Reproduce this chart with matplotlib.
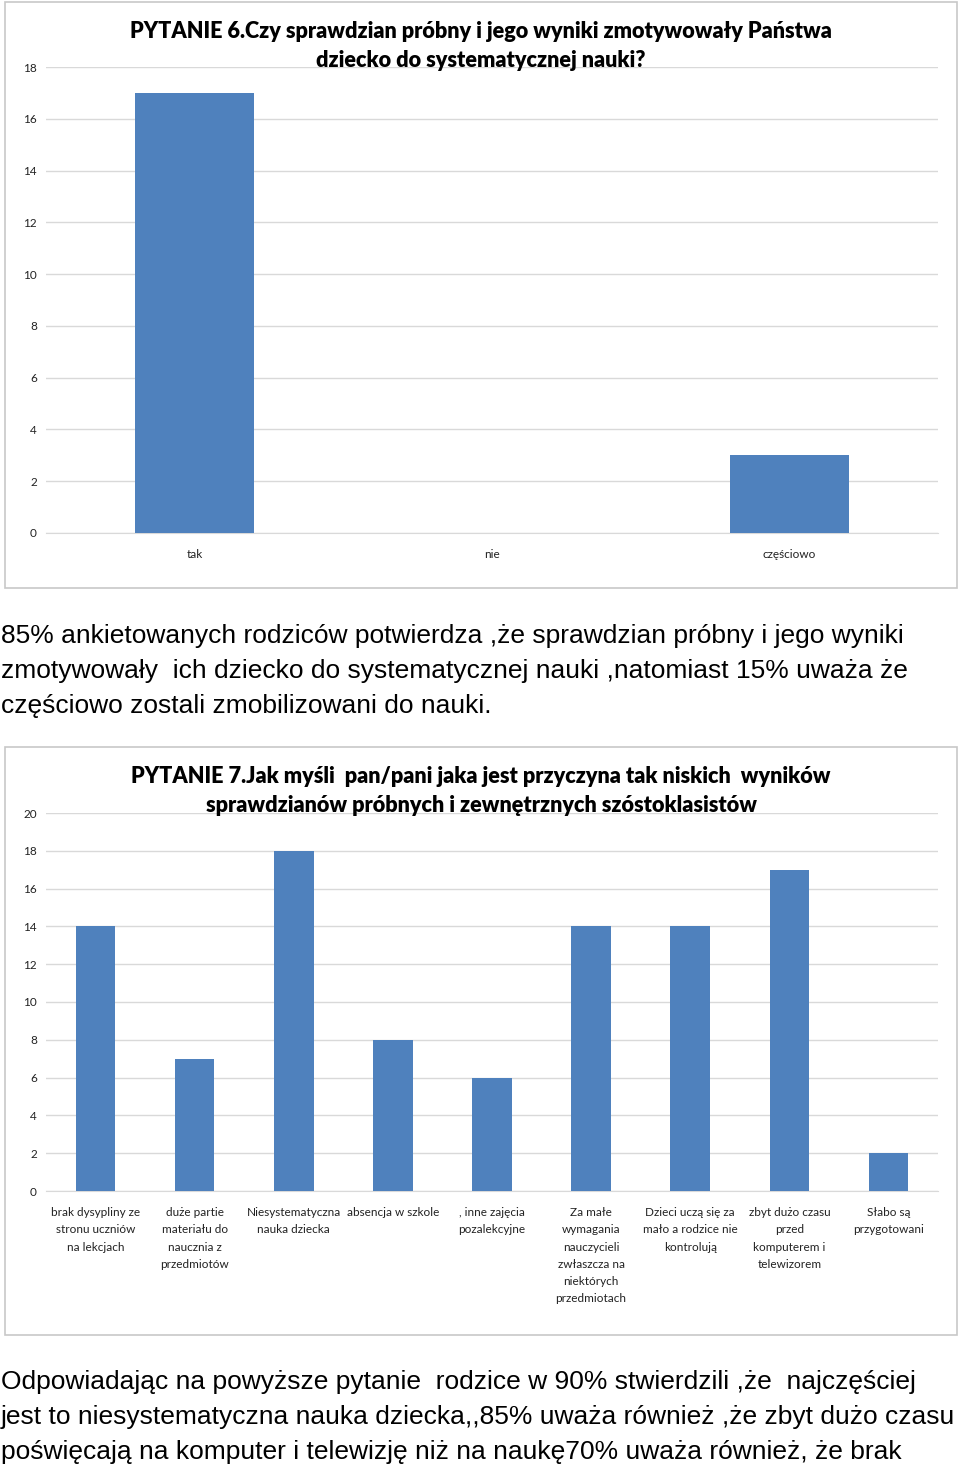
import matplotlib

matplotlib.use("Agg")
import matplotlib.pyplot as plt
from matplotlib.patches import Rectangle

W, H = 960, 1467

# chart 1 data
q6_categories = ["tak", "nie", "częściowo"]
q6_values = [17, 0, 3]
q6_title = "PYTANIE 6.Czy sprawdzian próbny i jego wyniki zmotywowały Państwa\ndziecko do systematycznej nauki?"

# chart 2 data
q7_categories = [
    "brak dysypliny ze\nstronu uczniów\nna lekcjach",
    "duże partie\nmateriału do\nnaucznia z\nprzedmiotów",
    "Niesystematyczna\nnauka dziecka",
    "absencja w szkole",
    ", inne zajęcia\npozalekcyjne",
    "Za małe\nwymagania\nnauczycieli\nzwłaszcza na\nniektórych\nprzedmiotach",
    "Dzieci uczą się za\nmało a rodzice nie\nkontrolują",
    "zbyt dużo czasu\nprzed\nkomputerem i\ntelewizorem",
    "Słabo są\nprzygotowani",
]
q7_values = [14, 7, 18, 8, 6, 14, 14, 17, 2]
q7_title = "PYTANIE 7.Jak myśli  pan/pani jaka jest przyczyna tak niskich  wyników\nsprawdzianów próbnych i zewnętrznych szóstoklasistów"

text_q6 = ("85% ankietowanych rodziców potwierdza ,że sprawdzian próbny i jego wyniki\n"
           "zmotywowały  ich dziecko do systematycznej nauki ,natomiast 15% uważa że\n"
           "częściowo zostali zmobilizowani do nauki.")
text_q7 = ("Odpowiadając na powyższe pytanie  rodzice w 90% stwierdzili ,że  najczęściej\n"
           "jest to niesystematyczna nauka dziecka,,85% uważa również ,że zbyt dużo czasu\n"
           "poświęcają na komputer i telewizję niż na naukę70% uważa również, że brak")

BAR = "#4F81BD"
GRID = "#D9D9D9"
CHART_FONT = ["Lato", "DejaVu Sans"]
BODY_FONT = ["Liberation Sans", "DejaVu Sans"]


def box(x0, y0, x1, y1):
    """pixel box (top-left origin) -> figure fraction rect"""
    return [x0 / W, 1 - y1 / H, (x1 - x0) / W, (y1 - y0) / H]


def draw_chart(fig, panel, axbox, cats, vals, ymax, title, title_y, xpad):
    px0, py0, px1, py1 = panel
    fig.patches.append(Rectangle((px0 / W, 1 - py1 / H), (px1 - px0) / W, (py1 - py0) / H,
                                 transform=fig.transFigure, fill=False,
                                 edgecolor="#C8C8C8", linewidth=1.2))
    ax = fig.add_axes(box(*axbox))
    x = range(len(cats))
    ax.bar(x, vals, width=0.4, color=BAR, zorder=3)
    ax.set_xlim(-0.5, len(cats) - 0.5)
    ax.set_ylim(0, ymax)
    ax.set_yticks(range(0, ymax + 1, 2))
    ax.set_xticks(list(x))
    ax.set_xticklabels(cats, fontsize=8.5, family=CHART_FONT, linespacing=1.7,
                       va="top", color="#222222")
    for lab in ax.get_yticklabels():
        lab.set_family(CHART_FONT)
    ax.tick_params(axis="y", length=0, pad=6.5, labelsize=8.5, labelcolor="#222222")
    ax.tick_params(axis="x", length=0, pad=xpad)
    ax.grid(axis="y", color=GRID, linewidth=1, zorder=0)
    for s in ["top", "right", "left"]:
        ax.spines[s].set_visible(False)
    ax.spines["bottom"].set_color(GRID)
    fig.text(481 / W, 1 - title_y / H, title, ha="center", va="top", fontsize=15.6,
             fontweight="heavy", family=CHART_FONT, linespacing=1.45)
    return ax


fig = plt.figure(figsize=(W / 100, H / 100), dpi=100)

draw_chart(fig, (5, 2, 957, 588), (46, 67, 938, 533), q6_categories, q6_values, 18,
           q6_title, 21, 11.5)
fig.text(1 / W, 1 - 624 / H, text_q6, ha="left", va="top", fontsize=19,
         family=BODY_FONT, linespacing=1.57)

draw_chart(fig, (5, 747, 957, 1335), (46, 813, 938, 1191), q7_categories, q7_values, 20,
           q7_title, 766, 11.5)
fig.text(1 / W, 1 - 1370 / H, text_q7, ha="left", va="top", fontsize=19,
         family=BODY_FONT, linespacing=1.57)

fig.savefig("out.png", dpi=100)
